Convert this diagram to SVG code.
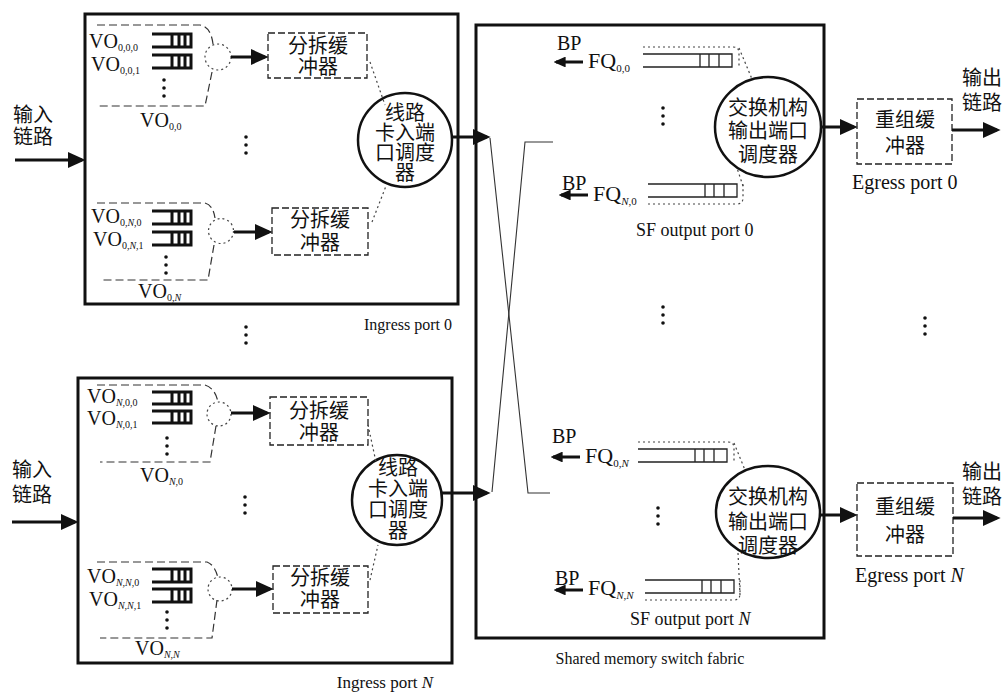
<svg xmlns="http://www.w3.org/2000/svg" width="1002" height="692" viewBox="0 0 1002 692">
<style>
.box{fill:none;stroke:#111;stroke-width:3}
.dbox{fill:none;stroke:#222;stroke-width:1.3;stroke-dasharray:7 3}
.dline{fill:none;stroke:#333;stroke-width:1.2;stroke-dasharray:8 4}
.dot{fill:none;stroke:#444;stroke-width:1.2;stroke-dasharray:2 3}
.thin{fill:none;stroke:#333;stroke-width:1.1}
.arr{fill:none;stroke:#111;stroke-width:3;marker-end:url(#ah)}
.arr2{fill:none;stroke:#111;stroke-width:3;marker-end:url(#ah2)}
.circ{fill:#fff;stroke:#111;stroke-width:2.5}
.t{font-family:"Liberation Serif",serif;fill:#111}
.vo{font-family:"Liberation Serif",serif;font-size:20px;fill:#111}
.cn{font-family:"Liberation Serif","Noto Sans CJK SC",sans-serif;font-size:20px;fill:#111;text-anchor:middle;dominant-baseline:central}
.dt{fill:#111}
</style>
<defs>
<marker id="ah" viewBox="0 0 10 9" refX="8" refY="4.5" markerWidth="6" markerHeight="5.4" orient="auto" markerUnits="strokeWidth"><path d="M0,0 L10,4.5 L0,9 z" fill="#111"/></marker>
<marker id="ah2" viewBox="0 0 10 9" refX="8" refY="4.5" markerWidth="4" markerHeight="3.6" orient="auto" markerUnits="strokeWidth"><path d="M0,0 L10,4.5 L0,9 z" fill="#111"/></marker>
<g id="q"><path d="M0,0 H39 V13 H0 M20,0 V13 M27,0 V13 M33,0 V13" fill="none" stroke="#111" stroke-width="3"/></g>
<g id="qs"><path d="M0,0 H39 V12 H0 M20,0 V12 M27,0 V12 M33,0 V12" fill="none" stroke="#111" stroke-width="3"/></g>
<g id="fqA"><path d="M0,0 H89 V13 H0 M57,0 V13 M66,0 V13 M76,0 V13" fill="none" stroke="#222" stroke-width="1.3"/><path d="M0,-7 H90 Q96,-7 96,-1 V12" class="dot"/></g>
<g id="fqB"><path d="M0,0 H89 V13 H0 M57,0 V13 M66,0 V13 M76,0 V13" fill="none" stroke="#222" stroke-width="1.3"/><path d="M0,20 H88 Q95,20 95,14 V0" class="dot"/></g>
<g id="dots3"><circle cx="0" cy="0" r="1.8"/><circle cx="0" cy="8" r="1.8"/><circle cx="0" cy="16" r="1.8"/></g>
</defs>

<!-- Ingress port 0 -->
<g id="ingress0">
<rect class="box" x="85" y="14" width="373" height="290"/>
<text class="t" x="452" y="330" font-size="16" text-anchor="end">Ingress port 0</text>
</g>
<g id="voq00">
<path class="dline" d="M97,25 H200 Q211,27 213,44 M212,72 L205,106 H97"/>
<circle cx="218" cy="57" r="13" class="dot"/>
<text class="vo" x="89" y="48">VO<tspan font-size="10" dy="3">0,0,0</tspan></text>
<text class="vo" x="91" y="71">VO<tspan font-size="10" dy="3">0,0,1</tspan></text>
<use href="#q" x="152" y="34"/><use href="#q" x="152" y="55"/>
<use href="#dots3" x="164" y="80" class="dt"/>
<text class="vo" x="140" y="127">VO<tspan font-size="10" dy="3">0,0</tspan></text>
</g>
<g id="split00">
<rect class="dbox" x="268" y="33" width="99" height="45"/>
<text class="cn" x="318" y="46">分拆缓</text>
<text class="cn" x="318" y="67">冲器</text>
</g>
<g id="voq0N">
<path class="dline" d="M97,203 H205 Q213,205 215,218 M214,245 L208,280 H100"/>
<circle cx="221" cy="231" r="12.5" class="dot"/>
<text class="vo" x="91" y="223">VO<tspan font-size="10" dy="3">0,<tspan font-style="italic">N</tspan>,0</tspan></text>
<text class="vo" x="93" y="246">VO<tspan font-size="10" dy="3">0,<tspan font-style="italic">N</tspan>,1</tspan></text>
<use href="#q" x="152" y="211"/><use href="#q" x="152" y="232"/>
<use href="#dots3" x="166" y="257" class="dt"/>
<text class="vo" x="138" y="298">VO<tspan font-size="10" dy="3">0,<tspan font-style="italic">N</tspan></tspan></text>
</g>
<g id="split0N">
<rect class="dbox" x="272" y="208" width="96" height="47"/>
<text class="cn" x="320" y="220">分拆缓</text>
<text class="cn" x="320" y="243">冲器</text>
</g>
<g id="sched0">
<circle class="circ" cx="405" cy="140" r="47"/>
<text class="cn" x="405" y="113">线路</text>
<text class="cn" x="405" y="133">卡入端</text>
<text class="cn" x="405" y="153">口调度</text>
<text class="cn" x="405" y="173">器</text>
</g>

<!-- Ingress port N -->
<g id="ingressN">
<rect class="box" x="78" y="378" width="374" height="285"/>
<text class="t" x="385" y="688" font-size="17" text-anchor="middle">Ingress port <tspan font-style="italic">N</tspan></text>
</g>
<g id="voqN0">
<path class="dline" d="M97,385 H205 Q215,388 218,402 M216,426 L210,462 H100"/>
<circle cx="219" cy="414" r="12" class="dot"/>
<text class="vo" x="87" y="403">VO<tspan font-size="10" dy="3"><tspan font-style="italic">N</tspan>,0,0</tspan></text>
<text class="vo" x="87" y="425">VO<tspan font-size="10" dy="3"><tspan font-style="italic">N</tspan>,0,1</tspan></text>
<use href="#qs" x="152" y="392"/><use href="#qs" x="152" y="411"/>
<use href="#dots3" x="167" y="438" class="dt"/>
<text class="vo" x="140" y="482">VO<tspan font-size="10" dy="3"><tspan font-style="italic">N</tspan>,0</tspan></text>
</g>
<g id="splitN0">
<rect class="dbox" x="270" y="397" width="98" height="48"/>
<text class="cn" x="319" y="411">分拆缓</text>
<text class="cn" x="319" y="433">冲器</text>
</g>
<g id="voqNN">
<path class="dline" d="M97,562 H207 Q215,565 218,578 M217,600 L212,638 H100"/>
<circle cx="220" cy="589" r="12" class="dot"/>
<text class="vo" x="87" y="583">VO<tspan font-size="10" dy="3"><tspan font-style="italic">N</tspan>,<tspan font-style="italic">N</tspan>,0</tspan></text>
<text class="vo" x="89" y="606">VO<tspan font-size="10" dy="3"><tspan font-style="italic">N</tspan>,<tspan font-style="italic">N</tspan>,1</tspan></text>
<use href="#q" x="152" y="569"/><use href="#q" x="152" y="589"/>
<use href="#dots3" x="167" y="612" class="dt"/>
<text class="vo" x="135" y="655">VO<tspan font-size="10" dy="3"><tspan font-style="italic">N</tspan>,<tspan font-style="italic">N</tspan></tspan></text>
</g>
<g id="splitNN">
<rect class="dbox" x="273" y="566" width="95" height="47"/>
<text class="cn" x="320" y="578">分拆缓</text>
<text class="cn" x="320" y="600">冲器</text>
</g>
<g id="schedN">
<circle class="circ" cx="397" cy="500" r="45"/>
<text class="cn" x="398" y="468">线路</text>
<text class="cn" x="398" y="489">卡入端</text>
<text class="cn" x="398" y="510">口调度</text>
<text class="cn" x="398" y="531">器</text>
</g>

<!-- input labels -->
<g id="input0">
<text class="cn" x="33" y="115">输入</text>
<text class="cn" x="33" y="137">链路</text>
</g>
<g id="inputN">
<text class="cn" x="32" y="470">输入</text>
<text class="cn" x="32" y="495">链路</text>
</g>

<!-- switch fabric -->
<g id="fabric">
<rect class="box" x="476" y="25" width="348" height="613"/>
<text class="t" x="650" y="664" font-size="16" text-anchor="middle">Shared memory switch fabric</text>
</g>
<g id="sfport0">
<text class="t" x="557" y="50" font-size="20">BP</text>
<text class="t" x="588" y="68" font-size="22">FQ<tspan font-size="11" dy="4">0,0</tspan></text>
<use href="#fqA" x="643" y="54"/>
<text class="t" x="562" y="190" font-size="20">BP</text>
<text class="t" x="593" y="201" font-size="22">FQ<tspan font-size="11" dy="4"><tspan font-style="italic">N</tspan>,0</tspan></text>
<use href="#fqB" x="648" y="184"/>
<use href="#dots3" x="663" y="108" class="dt"/>
<text class="t" x="636" y="236" font-size="18">SF  output port 0</text>
</g>
<g id="fsched0">
<ellipse class="circ" cx="768" cy="127" rx="53" ry="50"/>
<text class="cn" x="768" y="108" font-size="21">交换机构</text>
<text class="cn" x="768" y="131" font-size="21">输出端口</text>
<text class="cn" x="768" y="155" font-size="21">调度器</text>
</g>
<g id="sfportN">
<text class="t" x="552" y="443" font-size="20">BP</text>
<text class="t" x="585" y="463" font-size="22">FQ<tspan font-size="11" dy="4">0,<tspan font-style="italic">N</tspan></tspan></text>
<use href="#fqA" x="638" y="449"/>
<text class="t" x="555" y="585" font-size="20">BP</text>
<text class="t" x="588" y="595" font-size="22">FQ<tspan font-size="11" dy="4"><tspan font-style="italic">N</tspan>,<tspan font-style="italic">N</tspan></tspan></text>
<use href="#fqB" x="645" y="580"/>
<use href="#dots3" x="658" y="508" class="dt"/>
<text class="t" x="630" y="625" font-size="18">SF  output port <tspan font-style="italic">N</tspan></text>
</g>
<g id="fschedN">
<ellipse class="circ" cx="768" cy="512" rx="52" ry="46"/>
<text class="cn" x="768" y="497" font-size="21">交换机构</text>
<text class="cn" x="768" y="522" font-size="21">输出端口</text>
<text class="cn" x="768" y="546" font-size="21">调度器</text>
</g>

<!-- egress -->
<g id="egress0">
<rect class="dbox" x="857" y="99" width="95" height="65"/>
<text class="cn" x="905" y="120">重组缓</text>
<text class="cn" x="905" y="146">冲器</text>
<text class="t" x="852" y="189" font-size="20">Egress port 0</text>
<text class="cn" x="962" y="78" style="text-anchor:start">输出</text>
<text class="cn" x="962" y="103" style="text-anchor:start">链路</text>
</g>
<g id="egressN">
<rect class="dbox" x="857" y="483" width="96" height="73"/>
<text class="cn" x="905" y="507">重组缓</text>
<text class="cn" x="905" y="535">冲器</text>
<text class="t" x="855" y="582" font-size="20">Egress port <tspan font-style="italic">N</tspan></text>
<text class="cn" x="962" y="472" style="text-anchor:start">输出</text>
<text class="cn" x="962" y="497" style="text-anchor:start">链路</text>
</g>
<g id="ellipsis" class="dt">
<use href="#dots3" x="246" y="137"/>
<use href="#dots3" x="246" y="327"/>
<use href="#dots3" x="245" y="497"/>
<use href="#dots3" x="663" y="307"/>
<use href="#dots3" x="925" y="318"/>
</g>

<!-- connectors -->
<g id="connectors">
<line class="arr" x1="15" y1="160" x2="82" y2="160"/>
<line class="arr" x1="12" y1="522" x2="75" y2="522"/>
<line class="arr" x1="231" y1="57" x2="265" y2="57"/>
<line class="arr" x1="234" y1="232" x2="269" y2="232"/>
<line class="arr" x1="231" y1="413" x2="267" y2="413"/>
<line class="arr" x1="232" y1="589" x2="270" y2="589"/>
<path class="dot" d="M370,62 L385,105"/>
<path class="dot" d="M372,222 L386,186"/>
<path class="dot" d="M368,425 L376,462"/>
<path class="dot" d="M370,580 L378,545"/>
<line class="arr" x1="452" y1="137" x2="487" y2="137"/>
<line class="arr" x1="442" y1="493" x2="487" y2="493"/>
<path class="thin" d="M490,138 L528,493 H550"/>
<path class="thin" d="M492,492 L525,142 H553"/>
<line class="arr2" x1="583" y1="62" x2="556" y2="62"/>
<line class="arr2" x1="588" y1="195" x2="561" y2="195"/>
<line class="arr2" x1="580" y1="457" x2="553" y2="457"/>
<line class="arr2" x1="583" y1="590" x2="556" y2="590"/>
<path class="dot" d="M739,48 L752,79"/>
<path class="dot" d="M743,186 L737,168"/>
<path class="dot" d="M734,443 L745,470"/>
<path class="dot" d="M740,595 L738,553"/>
<line class="arr" x1="821" y1="127" x2="854" y2="127"/>
<line class="arr" x1="820" y1="515" x2="854" y2="515"/>
<line class="arr" x1="952" y1="130" x2="997" y2="130"/>
<line class="arr" x1="953" y1="518" x2="997" y2="518"/>
</g>
</svg>
